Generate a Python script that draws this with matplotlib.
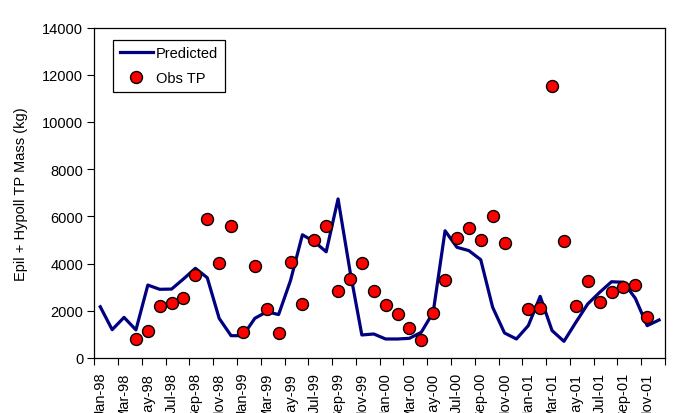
import numpy as np
import matplotlib
matplotlib.use("Agg")
import matplotlib.pyplot as plt

plt.rcParams['font.family'] = ['Liberation Sans', 'DejaVu Sans']

months = ["Jan", "Feb", "Mar", "Apr", "May", "Jun", "Jul", "Aug", "Sep", "Oct", "Nov", "Dec"]
years = ["98", "99", "00", "01"]
categories = [f"{m}-{y}" for y in years for m in months]

predicted = [2170, 1200, 1720, 1190, 3090, 2910, 2920, 3350, 3800, 3400, 1680, 945,
             945, 1680, 1960, 1840, 3280, 5220, 4930, 4500, 6740, 3700, 975, 1017,
             805, 805, 833, 1090, 1935, 5390, 4690, 4550, 4165, 2150, 1060, 805,
             1370, 2610, 1160, 706, 1510, 2290, 2780, 3230, 3210, 2530, 1370, 1610]

nan = np.nan
observed = [nan, nan, nan, 805, 1144, 2217, 2316, 2528, 3503, 5875, 4011, 5607,
            1116, 3912, 2076, 1045, 4082, 2288, 5000, 5579, 2839, 3347, 4025, 2825,
            2260, 1850, 1257, 749, 1907, 3291, 5098, 5494, 5000, 6002, 4858, nan,
            2076, 2104, 11537, 4957, 2217, 3249, 2359, 2782, 2994, 3093, 1724, nan]

fig = plt.figure(figsize=(6.89, 4.14), dpi=100)
ax = fig.add_axes([0.1369, 0.1329, 0.9652 - 0.1369, 0.9309 - 0.1329])

x = np.arange(len(categories))
ax.plot(x, predicted, color='#000080', lw=2.3, label='Predicted', zorder=2)
ax.plot(x, observed, linestyle='none', marker='o', markersize=8.6,
        markerfacecolor='#ff0000', markeredgecolor='black', markeredgewidth=1.0,
        label='Obs TP', zorder=3)

ax.set_xlim(-0.5, len(categories) - 0.5)
ax.set_ylim(0, 14000)
ax.set_yticks(np.arange(0, 14001, 2000))
ax.tick_params(axis='y', direction='out', length=5, width=0.8, labelsize=10.5, pad=3)

# major ticks at category boundaries (every 2), labels at category centres
ax.set_xticks(np.arange(-0.5, len(categories) + 0.5, 2))
ax.set_xticklabels([])
ax.set_xticks(x[::2], minor=True)
ax.set_xticklabels(categories[::2], minor=True, rotation=90, fontsize=10.5)
ax.tick_params(axis='x', which='major', direction='out', length=5, width=0.8)
ax.tick_params(axis='x', which='minor', length=0, pad=10)

for s in ax.spines.values():
    s.set_linewidth(0.9)
    s.set_color('black')

ax.set_ylabel('Epil + Hypoll TP Mass (kg)', fontsize=10.5, labelpad=10)

leg = ax.legend(loc='upper left', bbox_to_anchor=(0.033, 0.963), borderaxespad=0,
                fontsize=10.5, frameon=True, fancybox=False, edgecolor='black',
                framealpha=1, handlelength=2.3, handletextpad=0.2,
                borderpad=0.45, labelspacing=0.75)
leg.get_frame().set_linewidth(0.9)

fig.savefig('out.png', dpi=100)
